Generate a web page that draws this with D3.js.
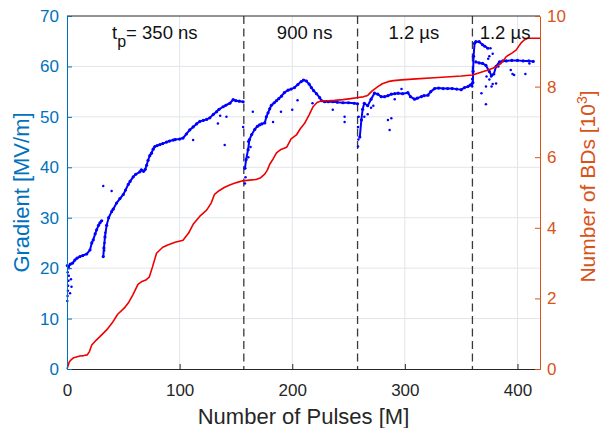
<!DOCTYPE html>
<html>
<head>
<meta charset="utf-8">
<script src="https://cdn.jsdelivr.net/npm/d3@7"></script>
<style>
  html, body { margin: 0; padding: 0; background: #fff; }
  svg { display: block; font-family: "Liberation Sans", Arial, Helvetica, sans-serif; }
</style>
</head>
<body>
<svg id="chart" width="601" height="428"></svg>
<script>
// ---------- DATA ----------
const xTicks = [0, 100, 200, 300, 400];
const gradTicks = [0, 10, 20, 30, 40, 50, 60, 70];
const bdTicks = [0, 2, 4, 6, 8, 10];
const pulseWidthChanges = [157, 258, 360];
const regimeLabelX = [78, 211, 308, 389];
const regimeLabels = ["= 350 ns", "900 ns", "1.2 µs", "1.2 µs"];

// cumulative breakdowns [M pulses, thousands of BDs]
const bdPulses = [0,0.5,2,3.3,6,11.5,15,18,20,22,26,29,35,40,45,51,55,58.5,63,66,70,73,76,79.5,85,90,96,103,108,112,118,124,128,131,135,140,145,150.5,156,162,168,172,175.6,178,180,183,186,190,195,199,203.7,207,211,215,218.5,222,226,232,237.7,245,252,258.4,263,267,271,276,280,285,290,297,310,326,340,350,360,365,369,374,378,382,385.5,388,390,395,399,401,403,406,409,420];
const bdCount  = [0,0.05,0.2,0.25,0.32,0.37,0.38,0.40,0.5,0.68,0.82,0.91,1.1,1.3,1.55,1.73,1.9,2.1,2.4,2.47,2.52,2.6,2.9,3.28,3.45,3.52,3.59,3.65,3.85,4.1,4.33,4.5,4.7,4.95,5.05,5.15,5.22,5.28,5.33,5.35,5.37,5.42,5.52,5.64,5.8,5.95,6.12,6.22,6.28,6.52,6.63,6.8,6.96,7.2,7.43,7.55,7.6,7.6,7.61,7.63,7.66,7.69,7.71,7.75,7.88,8.0,8.08,8.14,8.17,8.19,8.22,8.25,8.28,8.3,8.33,8.38,8.42,8.47,8.52,8.58,8.66,8.76,8.85,8.95,9.04,9.14,9.23,9.32,9.37,9.37];

// gradient trend segments [M pulses, MV/m]
const grad350a = [[0.3,20.5],[1.2,20.3],[3,20.8],[5,21],[7,21.6],[9,22],[11.5,22.3],[14,22.5],[17.5,22.8],[20.4,23.6],[22,25],[23.3,25.6],[25,26.8],[26.3,27.6],[28,28.5],[29.3,29],[30.8,29.4]];
const grad350b = [[32.2,22.3],[32.8,24],[33.7,26.2],[35.2,28.5],[37,30],[39.6,31.2],[41,31.7],[44,32.9],[47,33.8],[50,34.6],[52,35.5],[54.4,36.6],[56,37.2],[58.8,38.1],[61,38.6],[64.7,39.1],[66,39.5],[68,39.2],[69.5,39.6],[70.7,40.4],[72,41.4],[73.5,42.3],[75,42.8],[76.5,43.6],[78,44.1],[80,44.3],[82.5,44.5],[85,44.7],[88.4,45],[91,45.2],[94.3,45.4],[96,45.5],[100,45.6],[103,45.8],[106,46.6],[109,47.4],[112,48],[115,48.6],[118,49.1],[121,49.3],[124,49.5],[126.8,49.8],[130,50.5],[132.8,51],[135,51.5],[138.6,52],[141,52.3],[144.6,52.7],[147.5,53.4],[150,53.2],[153,53.1],[156.4,53]];
const grad900 = [[158,39.8],[159,41.5],[160.8,43.5],[162,45.5],[164,46.5],[166.7,47.5],[169,48.1],[171,48.4],[173,48.6],[175.6,48.8],[177,50],[178.5,50.8],[180,51.6],[181.5,52.3],[184,52.8],[186,53.2],[188,53.6],[190.4,54.1],[193,54.8],[196.3,55.3],[199,55.5],[202,55.8],[205,56.4],[208,57],[210,57.3],[212.6,57.1],[215,56.5],[217,55.8],[219,55.2],[221.5,54.6],[224.4,53.8],[226,53.2],[228.8,53],[232,53],[236,53],[240,52.9],[245,52.8],[250,52.8],[255,52.7],[258,52.6]];
const grad1200a = [[260,46],[261.4,49.4],[262.5,51.5],[264,52.7],[267,52.2],[270,53.5],[273,54.7],[276,54.5],[279,54],[282,54],[285,54.2],[288,54.5],[291,54.6],[294,54.7],[298,54.6],[302.7,54.8],[305,54],[308.6,53.5],[311,53.7],[314.6,54],[317,54.2],[320.5,54.3],[323,55],[326.4,55.6],[330,55.7],[334,55.6],[338,55.6],[342,55.6],[346,55.5],[350,55.4],[353,55.8],[356,56],[358,56.3],[359.5,56.5]];
const grad1200bHigh = [[360.4,56.8],[360.6,59],[361,62],[361.9,64.6],[363,64.9],[366,64.9],[369,64.3],[371,64],[373.7,63.6]];
const grad1200bLow = [[363,60.9],[366,60.7],[369,60.6],[372,60.2],[375,59],[377,58.2],[379,58.5],[381,60],[384,60.9],[387,61.1],[390,61.1],[395,61.2],[400,61.2],[405,61.1],[410,61.1],[414,61]];
const gradScatter = [[0.3,13.5],[0.5,14.5],[0.8,15.5],[1,16.5],[1.3,17.5],[1.6,18.5],[2.7,15],[4,16.3],[0.6,19.2],[1.8,20],[3.5,17.8],
  [32.2,36.3],[39.6,35.3],[33,23.5],[33.3,25],[34,27],[112,45.4],[134,48.7],[140,44.4],[141.6,50],[136,50.2],[156.4,48],[158,36.8],[158.5,38],[160.8,45.1],[161,42],[163,44],[165,51],
  [183,49],[190,51],[200,51.4],[204.7,53.3],[218,52.7],[236,51.4],[246.5,49],[246.5,50],[258.4,48],[258.4,44.1],[258.7,45.5],[259,50],
  [264,50],[267,50.5],[270,51.8],[272,52.2],[285,49.4],[286.5,47.4],[288,49.7],[291,53.5],[297,55.5],
  [359.8,56],[359.8,57.5],[368,54.7],[372,52.5],[372,56],[372.5,58],[375,57.4],[375,62],[376.6,58],[377,56],[378,56.5],[378,62.5],[381,56.6],[383,60],[394,59.3],[395.6,58.5],[397,58.3],[407,58.5],[410.6,60.6],[376,63.6],[374,61.5]];

// ---------- CHART ----------
const svg = d3.select("#chart");
const FONT = '"Liberation Sans", Arial, Helvetica, sans-serif';
const blueAxis = "#0072BD", orangeAxis = "#D95319", dark = "#262626";
const L = 67, R = 540, T = 16, B = 369;

const x = d3.scaleLinear().domain([0, 420]).range([L, R]);
const yL = d3.scaleLinear().domain([0, 70]).range([B, T]);
const yR = d3.scaleLinear().domain([0, 10]).range([B, T]);

// grid
const grid = svg.append("g");
grid.selectAll("line.v").data(xTicks.filter(d => d > 0)).join("line")
  .attr("x1", d => x(d)).attr("x2", d => x(d)).attr("y1", T).attr("y2", B)
  .attr("stroke", "#e2e6ea").attr("stroke-width", 1);
grid.selectAll("line.h").data(gradTicks.filter(d => d > 0 && d < 70)).join("line")
  .attr("x1", L).attr("x2", R).attr("y1", d => yL(d)).attr("y2", d => yL(d))
  .attr("stroke", "#e2e6ea").attr("stroke-width", 1);

// dashed pulse-width change lines
svg.append("g").selectAll("line").data(pulseWidthChanges).join("line")
  .attr("x1", d => x(d)).attr("x2", d => x(d)).attr("y1", T).attr("y2", B)
  .attr("stroke", "#3a3a3a").attr("stroke-width", 1.3).attr("stroke-dasharray", "8,4.5");

// gradient data (blue dots)
const gLine = d3.line().x(d => x(d[0])).y(d => yL(d[1]));
const segs = [grad350a, grad350b, grad900, grad1200a, grad1200bHigh, grad1200bLow];
const blue = "#0000ff";
svg.append("g").selectAll("path").data(segs).join("path")
  .attr("d", gLine).attr("fill", "none").attr("stroke", blue)
  .attr("stroke-width", 2).attr("stroke-linejoin", "round");
svg.append("g").selectAll("circle").data(segs.flat()).join("circle")
  .attr("cx", d => x(d[0])).attr("cy", d => yL(d[1])).attr("r", 1.6).attr("fill", blue);
svg.append("g").selectAll("circle").data(gradScatter).join("circle")
  .attr("cx", d => x(d[0])).attr("cy", d => yL(d[1])).attr("r", 1.25).attr("fill", blue);

// BD line (red)
const bdData = bdPulses.map((p, i) => [p, bdCount[i]]);
svg.append("path").datum(bdData)
  .attr("d", d3.line().x(d => x(d[0])).y(d => yR(d[1])))
  .attr("fill", "none").attr("stroke", "#ee0000").attr("stroke-width", 1.6)
  .attr("stroke-linejoin", "round");

// top border
svg.append("line").attr("x1", L).attr("x2", R).attr("y1", T).attr("y2", T)
  .attr("stroke", dark).attr("stroke-width", 1);

// axes
function styleAxis(g, color) {
  g.selectAll("path.domain").attr("stroke", color).attr("stroke-width", 1);
  g.selectAll(".tick line").attr("stroke", color);
  g.selectAll(".tick text").attr("fill", color).attr("font-size", 17).attr("font-family", FONT);
}
const xAxis = svg.append("g").attr("transform", `translate(0,${B})`)
  .call(d3.axisBottom(x).tickValues(xTicks).tickSizeInner(-5).tickSizeOuter(0).tickPadding(15));
styleAxis(xAxis, dark);

const leftAxis = svg.append("g").attr("transform", `translate(${L},0)`)
  .call(d3.axisLeft(yL).tickValues(gradTicks).tickSizeInner(-5).tickSizeOuter(0).tickPadding(8));
styleAxis(leftAxis, blueAxis);

const rightAxis = svg.append("g").attr("transform", `translate(${R},0)`)
  .call(d3.axisRight(yR).tickValues(bdTicks).tickSizeInner(-5).tickSizeOuter(0).tickPadding(7));
styleAxis(rightAxis, orangeAxis);

// axis titles
svg.append("text").attr("x", (L + R) / 2).attr("y", 424).attr("text-anchor", "middle")
  .attr("font-size", 22).attr("fill", dark).text("Number of Pulses [M]");
svg.append("text").attr("transform", `translate(29,${(T + B) / 2}) rotate(-90)`)
  .attr("text-anchor", "middle").attr("font-size", 22).attr("fill", blueAxis).text("Gradient [MV/m]");
const rt = svg.append("text").attr("transform", `translate(595,${(T + B) / 2 - 6}) rotate(-90)`)
  .attr("text-anchor", "middle").attr("font-size", 21).attr("fill", orangeAxis);
rt.append("tspan").text("Number of BDs [10");
rt.append("tspan").attr("dy", -8).attr("font-size", 14).text("3");
rt.append("tspan").attr("dy", 8).text("]");

// regime labels
const lab = svg.append("g").attr("font-size", 18.5).attr("fill", "#111");
regimeLabels.forEach((t, i) => {
  const tx = lab.append("text").attr("x", x(regimeLabelX[i])).attr("y", 39).attr("text-anchor", "middle");
  if (i === 0) {
    tx.append("tspan").text("t");
    tx.append("tspan").attr("dy", 8).attr("font-size", 16).text("p");
    tx.append("tspan").attr("dy", -8).text(t);
  } else {
    tx.text(t);
  }
});
</script>
</body>
</html>
